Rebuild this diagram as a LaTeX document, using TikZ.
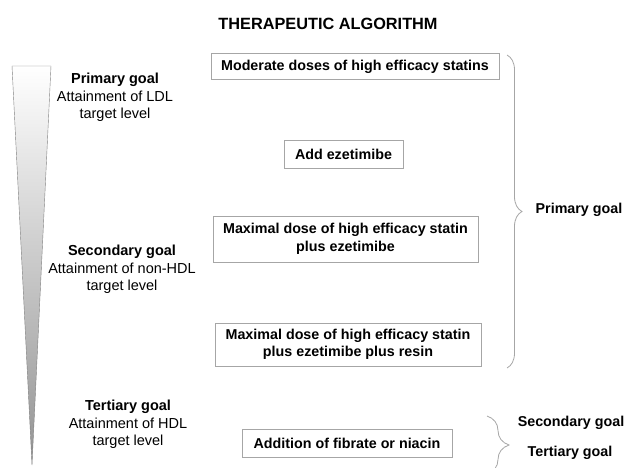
\documentclass[tikz,border=0pt]{standalone}
\usepackage{fontspec}
\setmainfont{Liberation Sans}
\usetikzlibrary{positioning,decorations.pathreplacing}

\tikzset{
  stepbox/.style={draw=gray!70, line width=1pt, align=center, inner sep=0pt,
    font=\fontsize{14.3}{17.5}\selectfont\bfseries},
  goaltext/.style={align=center, font=\fontsize{14.5}{17.5}\selectfont},
  goalname/.style={font=\fontsize{14.3}{17.5}\selectfont\bfseries},
  curly/.style={draw=gray!70, line width=0.8pt, decorate, decoration={brace, amplitude=#1}}
}

\begin{document}
\begin{tikzpicture}[x=1pt,y=-1pt]
    \useasboundingbox (0,0) rectangle (629,468);

    % Title
    \node[font=\fontsize{16.3}{18}\selectfont\bfseries] (title) at (328,24) {THERAPEUTIC ALGORITHM};

    % Wedge
    \draw[gray, top color=white, bottom color=gray!85] (12,66) -- (51,66) -- (32,465) -- cycle;

    % Goals on the left
    \node[goaltext] (left1) at (115,97.5) {\textbf{Primary goal}\\Attainment of LDL\\target level};
    \node[goaltext] (left2) at (122,269.5) {\textbf{Secondary goal}\\Attainment of non-HDL\\target level};
    \node[goaltext] (left3) at (128,424.5) {\textbf{Tertiary goal}\\Attainment of HDL\\target level};

    % Steps
    \node[stepbox, minimum width=288, minimum height=26] (statins) at (355,67) {Moderate doses of high efficacy statins};
    \node[stepbox, minimum width=119, minimum height=27] (ezetimibe) at (343.5,154.5) {Add ezetimibe};
    \node[stepbox, minimum width=265, minimum height=46] (maxdose) at (345.5,239) {Maximal dose of high efficacy statin\\plus ezetimibe};
    \node[stepbox, minimum width=266, minimum height=43] (resin) at (348,344.5) {Maximal dose of high efficacy statin\\plus ezetimibe plus resin};
    \node[stepbox, minimum width=210, minimum height=28] (fibrate) at (347,443) {Addition of fibrate or niacin};

    % Braces
    \coordinate (bigtop) at (507,55);
    \coordinate (bigbot) at (507,368);
    \draw[curly=15pt] (bigtop) -- (bigbot);
    \coordinate (smalltop) at (487,416);
    \coordinate (smallbot) at (487,474);
    \draw[curly=22pt] (smalltop) -- (smallbot);

    % Goals on the right
    \node[goalname] (right1) at (579,210) {Primary goal};
    \node[goalname] (right2) at (571,423) {Secondary goal};
    \node[goalname] (right3) at (570,453) {Tertiary goal};
\end{tikzpicture}
\end{document}
